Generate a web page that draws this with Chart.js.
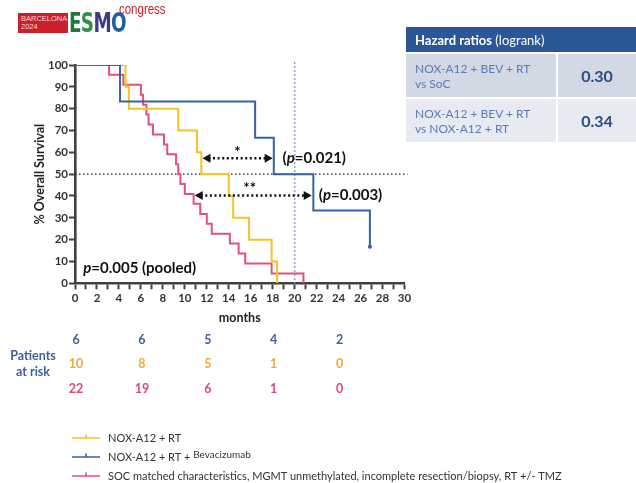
<!DOCTYPE html>
<html>
<head>
<meta charset="utf-8">
<script src="https://cdn.jsdelivr.net/npm/chart.js@4"></script>
<style>
  body { margin: 0; background: #fff; font-family: Lato, "Open Sans", sans-serif; }
  #wrap { position: relative; width: 636px; height: 483px; overflow: hidden; }
  #c { position: absolute; left: 0; top: 0; }
  .logo { position: absolute; left: 0; top: 0; width: 200px; height: 40px; }
  .logo .box { position: absolute; left: 18px; top: 13px; width: 50px; height: 20px; background: #c8202f; color: #f4d8da; font-size: 7.5px; line-height: 8px; padding: 2px 0 0 3px; box-sizing: border-box; font-family: "Liberation Sans", sans-serif; }
  .logo .esmo { position: absolute; left: 69px; top: 9px; font: bold 27px/27px "DejaVu Sans", sans-serif; letter-spacing: -1px; transform: scaleX(0.68); transform-origin: left top; }
  .logo .cong { position: absolute; left: 119px; top: 2px; font: 14px/14px "Liberation Sans", sans-serif; color: #c8202f; transform: scaleX(0.82); transform-origin: left top; }
  table.hr { position: absolute; left: 406px; top: 27px; width: 234px; border-collapse: collapse; }
  table.hr th { background: #2c5797; color: #fff; text-align: left; font-size: 13px; font-weight: normal; padding: 0 9px; height: 25px; }
  table.hr td { height: 43px; font-size: 12px; line-height: 15px; color: #5b7abc; padding: 0 9px; border-top: 2px solid #fff; }
  table.hr td.v { font-size: 16px; font-weight: bold; color: #2b4a80; text-align: center; border-left: 2px solid #fff; width: 78px; padding: 0 4px 0 0; }
  table.hr tr.r1 td { background: #d2d8e4; }
  table.hr tr.r2 td { background: #e7eaf1; }
</style>
</head>
<body>
<div id="wrap">
  <canvas id="c" width="636" height="483"></canvas>
  <div class="logo">
    <div class="box">BARCELONA<br>2024</div>
    <div class="esmo"><span style="color:#1f7a3a">E</span><span style="color:#2e9444">S</span><span style="color:#3b3b86">M</span><span style="color:#1d5ea6">O</span></div>
    <div class="cong">congress</div>
  </div>
  <table class="hr">
    <tr><th colspan="2"><b>Hazard ratios</b> (logrank)</th></tr>
    <tr class="r1"><td>NOX-A12 + BEV + RT<br>vs SoC</td><td class="v">0.30</td></tr>
    <tr class="r2"><td>NOX-A12 + BEV + RT<br>vs NOX-A12 + RT</td><td class="v">0.34</td></tr>
  </table>
</div>
<script>
// Kaplan-Meier step points (months, % surviving)
const bevMonths = [0, 4.1, 16.4, 18.1, 21.7, 26.85];
const bevSurv = [100, 83.3, 66.7, 50, 33.3, 16.7];
const noxMonths = [0, 4.6, 4.9, 9.4, 11.1, 11.5, 14.0, 14.4, 15.85, 17.9, 18.4];
const noxSurv = [100, 90, 80, 70, 60, 50, 40, 30, 20, 10, 0];
const socMonths = [0, 3.1, 4.4, 6.0, 6.2, 6.5, 6.7, 7.1, 8.1, 8.4, 9.2, 9.4, 9.6, 10.0, 10.8, 11.4, 12.0, 12.45, 14.1, 14.9, 15.5, 17.9, 20.8];
const socSurv = [100, 95.5, 90.9, 86.4, 81.8, 77.3, 72.7, 68.2, 63.6, 59.1, 54.5, 50, 45.5, 40.9, 36.4, 31.8, 27.3, 22.7, 18.2, 13.6, 9.1, 4.5, 0];

// patients at risk
const riskMonths = [0, 6, 12, 18, 24];
const riskBev = [6, 6, 5, 4, 2];
const riskNox = [10, 8, 5, 1, 0];
const riskSoc = [22, 19, 6, 1, 0];

const legendLabels = ["NOX-A12 + RT", "NOX-A12 + RT + ", "SOC matched characteristics, MGMT unmethylated, incomplete resection/biopsy, RT +/- TMZ"];

const BLUE = "#3563a3", YELLOW = "#f6c324", RED = "#e4507a";
const FONT = "Lato, 'Open Sans', sans-serif";

const toPts = (xs, ys) => xs.map((m, i) => ({ x: m, y: ys[i] }));

function arrow(ctx, x1, x2, y) {
    ctx.save();
    ctx.strokeStyle = "#111";
    ctx.fillStyle = "#111";
    ctx.lineWidth = 2.4;
    ctx.setLineDash([2, 2.6]);
    ctx.beginPath();
    ctx.moveTo(x1 + 6, y);
    ctx.lineTo(x2 - 6, y);
    ctx.stroke();
    ctx.setLineDash([]);
    [[x1, 1], [x2, -1]].forEach(([x, d]) => {
        ctx.beginPath();
        ctx.moveTo(x, y);
        ctx.lineTo(x + 8 * d, y - 4.5);
        ctx.lineTo(x + 8 * d, y + 4.5);
        ctx.closePath();
        ctx.fill();
    });
    ctx.restore();
}

function pText(ctx, x, y, pre, val, size) {
    // "(p=0.021)" with italic p
    ctx.save();
    ctx.fillStyle = "#111";
    ctx.textBaseline = "middle";
    ctx.textAlign = "left";
    ctx.font = "bold " + size + "px " + FONT;
    ctx.fillText(pre, x, y);
    x += ctx.measureText(pre).width;
    ctx.font = "italic bold " + size + "px " + FONT;
    ctx.fillText("p", x, y);
    x += ctx.measureText("p").width;
    ctx.font = "bold " + size + "px " + FONT;
    ctx.fillText(val, x, y);
    ctx.restore();
}

const overlay = {
    id: "overlay",
    beforeDatasetsDraw(chart) {
        const { ctx, scales: { x, y } } = chart;
        ctx.save();
        // median line
        ctx.strokeStyle = "#222";
        ctx.lineWidth = 1.3;
        ctx.setLineDash([1.5, 2.5]);
        ctx.beginPath();
        ctx.moveTo(x.getPixelForValue(0), y.getPixelForValue(50));
        ctx.lineTo(x.getPixelForValue(30) + 3, y.getPixelForValue(50));
        ctx.stroke();
        // 20 month line
        ctx.strokeStyle = "#8b9ed6";
        ctx.lineWidth = 1.5;
        ctx.setLineDash([2, 2]);
        ctx.beginPath();
        ctx.moveTo(x.getPixelForValue(20), y.getPixelForValue(100) - 3);
        ctx.lineTo(x.getPixelForValue(20), y.getPixelForValue(0));
        ctx.stroke();
        ctx.restore();
    },
    afterDatasetsDraw(chart) {
        const { ctx, chartArea: a, scales: { x, y } } = chart;
        // arrows and p values
        const yA = y.getPixelForValue(57.3), yB = y.getPixelForValue(40.2);
        arrow(ctx, x.getPixelForValue(11.6), x.getPixelForValue(18.0), yA);
        arrow(ctx, x.getPixelForValue(10.9), x.getPixelForValue(21.55), yB);
        ctx.save();
        ctx.fillStyle = "#111";
        ctx.font = "bold 15px " + FONT;
        ctx.textAlign = "center";
        ctx.textBaseline = "middle";
        ctx.fillText("*", x.getPixelForValue(14.8), yA - 6);
        ctx.fillText("**", x.getPixelForValue(15.9), yB - 7);
        ctx.restore();
        pText(ctx, x.getPixelForValue(18.9), yA, "(", "=0.021)", 15);
        pText(ctx, x.getPixelForValue(22.2), yB, "(", "=0.003)", 15);
        pText(ctx, x.getPixelForValue(0.75), y.getPixelForValue(7), "", "=0.005 (pooled)", 15);

        // axis titles
        ctx.save();
        ctx.fillStyle = "#222";
        ctx.font = "bold 12.5px " + FONT;
        ctx.textAlign = "center";
        ctx.textBaseline = "middle";
        ctx.fillText("months", x.getPixelForValue(15), 318);
        ctx.translate(40, (a.top + a.bottom) / 2);
        ctx.rotate(-Math.PI / 2);
        ctx.fillText("% Overall Survival", 0, 0);
        ctx.restore();

        // patients at risk
        ctx.save();
        ctx.textAlign = "center";
        ctx.textBaseline = "middle";
        ctx.font = "bold 12.5px " + FONT;
        [[riskBev, "#3f5f9e", 340], [riskNox, "#f2a93a", 364], [riskSoc, "#de4a6c", 389]].forEach(([row, col, yy]) => {
            ctx.fillStyle = col;
            row.forEach((n, i) => ctx.fillText(String(n), x.getPixelForValue(riskMonths[i]) + 1, yy));
        });
        ctx.fillStyle = "#3f5f9e";
        ctx.fillText("Patients", 33, 356);
        ctx.fillText("at risk", 33, 372);
        ctx.restore();

        // legend
        ctx.save();
        ctx.textBaseline = "middle";
        ctx.textAlign = "left";
        [[YELLOW, 438], [BLUE, 457], [RED, 476]].forEach(([col, yy], i) => {
            ctx.strokeStyle = col;
            ctx.lineWidth = 1.6;
            ctx.beginPath();
            ctx.moveTo(72, yy);
            ctx.lineTo(100, yy);
            ctx.moveTo(86, yy - 3.5);
            ctx.lineTo(86, yy);
            ctx.stroke();
            ctx.fillStyle = "#333";
            ctx.font = "11px " + FONT;
            ctx.fillText(legendLabels[i], 108, yy);
            if (i === 1) {
                const w = ctx.measureText(legendLabels[i]).width;
                ctx.font = "10px " + FONT;
                ctx.fillText("Bevacizumab", 108 + w, yy - 2.5);
            }
        });
        ctx.restore();
    }
};

const axisGrid = { drawOnChartArea: false, drawTicks: true, tickLength: 6, tickColor: "#404040", tickWidth: 2 };
const axisBorder = { color: "#404040", width: 2.6 };
const tickFont = { family: FONT, size: 11.5, weight: "bold" };

new Chart(document.getElementById("c"), {
    type: "line",
    data: {
        datasets: [
            { label: "NOX-A12 + RT + Bevacizumab", data: toPts(bevMonths, bevSurv), borderColor: BLUE, backgroundColor: BLUE,
              pointRadius: bevMonths.map((m, i) => i === bevMonths.length - 1 ? 1.8 : 0), pointStyle: "rect" },
            { label: "NOX-A12 + RT", data: toPts(noxMonths, noxSurv), borderColor: YELLOW, backgroundColor: YELLOW, pointRadius: 0 },
            { label: "SOC", data: toPts(socMonths, socSurv), borderColor: RED, backgroundColor: RED, pointRadius: 0 }
        ]
    },
    options: {
        responsive: false,
        animation: false,
        devicePixelRatio: 1,
        layout: { padding: { left: 0, top: 65, right: 231.5, bottom: 170 } },
        elements: { line: { stepped: true, borderWidth: 2, fill: false, tension: 0 } },
        plugins: { legend: { display: false }, tooltip: { enabled: false } },
        scales: {
            x: {
                type: "linear", min: 0, max: 30,
                afterFit: s => { s.height = 29.7; },
                grid: axisGrid, border: axisBorder,
                ticks: { stepSize: 1, autoSkip: false, maxRotation: 0, padding: 2, color: "#333", font: tickFont,
                         callback: v => v % 2 === 0 ? String(v) : "" }
            },
            y: {
                min: 0, max: 100,
                afterFit: s => { s.width = 75; },
                grid: axisGrid, border: axisBorder,
                ticks: { stepSize: 10, padding: 1, color: "#333", font: tickFont }
            }
        }
    },
    plugins: [overlay]
});
</script>
</body>
</html>
